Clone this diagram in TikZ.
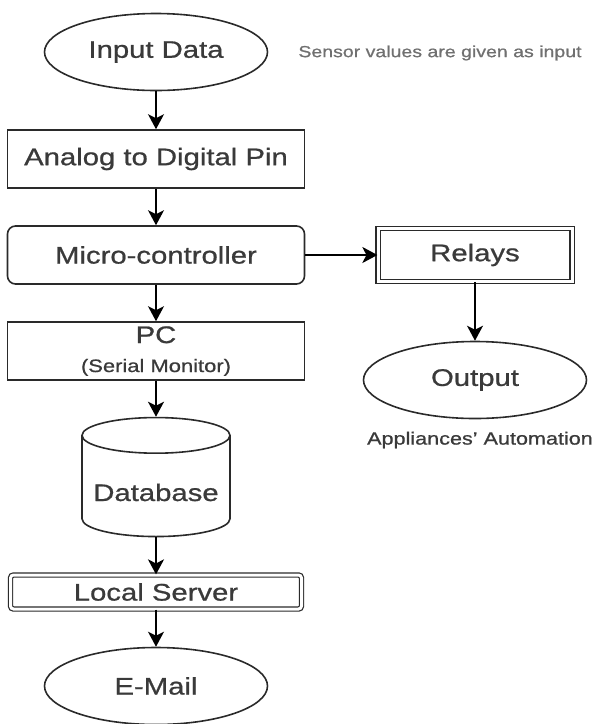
\documentclass[tikz,border=0pt]{standalone}
\usepackage{fontspec}
\setmainfont{Liberation Sans}[FakeStretch=1.22, FakeBold=0.8]
\usetikzlibrary{arrows.meta, positioning, shapes.geometric}
\definecolor{inkgray}{HTML}{3A3A3A}
\definecolor{linegray}{HTML}{2A2A2A}
\definecolor{notegray}{HTML}{707070}

\begin{document}
\begin{tikzpicture}[x=1pt, y=-1pt, >=Stealth, line width=1.6pt,
      every node/.style={text=inkgray},
      base/.style={draw=linegray, font=\fontsize{24}{26}\selectfont, align=center},
      proc/.style={base, rectangle, minimum width=297pt, minimum height=58pt},
      term/.style={base, ellipse, minimum width=223pt, minimum height=77pt},
      dbl/.style={base, rectangle, double=white, double distance=3pt, line width=1.2pt},
      note/.style={font=\fontsize{16}{18}\selectfont},
      flow/.style={-{Stealth[length=15pt, width=16pt, inset=4pt]}, draw=black, line width=1.8pt}]

    \useasboundingbox (0,0) rectangle (599,724);

    % main column
    \node[term] (input) at (156, 52) {Input Data};
    \node[proc] (adc) at (156, 159) {Analog to Digital Pin};
    \node[proc, rounded corners=8pt] (mcu) at (156, 255) {Micro-controller};
    \node[proc] (pc) at (156, 351)
      {PC\\[3pt]{\fontsize{18}{20}\selectfont (Serial Monitor)}};
    \node[base, cylinder, shape border rotate=90, aspect=0.27,
          minimum width=148pt, minimum height=119pt] (db) at (156, 489)
      {\raisebox{-12pt}[0pt][0pt]{Database}};
    \node[dbl, rounded corners=3pt, minimum width=291pt, minimum height=34pt] (srv) at (156, 592) {Local Server};
    \node[term] (mail) at (156, 686) {E-Mail};

    % side branch
    \node[dbl, minimum width=194pt, minimum height=53pt] (relay) at (475, 255) {Relays};
    \node[term] (out) at (475, 380) {Output};

    % notes
    \node[note, text=notegray] (sensor) at (440, 53) {Sensor values are given as input};
    \node[note, font=\fontsize{17.7}{20}\selectfont] (appl) at (480, 440) {Appliances' Automation};

    \draw[flow] (input) -- (adc);
    \draw[flow] (adc) -- (mcu);
    \draw[flow] (mcu) -- (relay);
    \draw[flow] (mcu) -- (pc);
    \draw[flow] (relay) -- (out);
    \draw[flow] (pc) -- (db);
    \draw[flow] (db) -- (srv);
    \draw[flow] (srv) -- (mail);

\end{tikzpicture}
\end{document}
